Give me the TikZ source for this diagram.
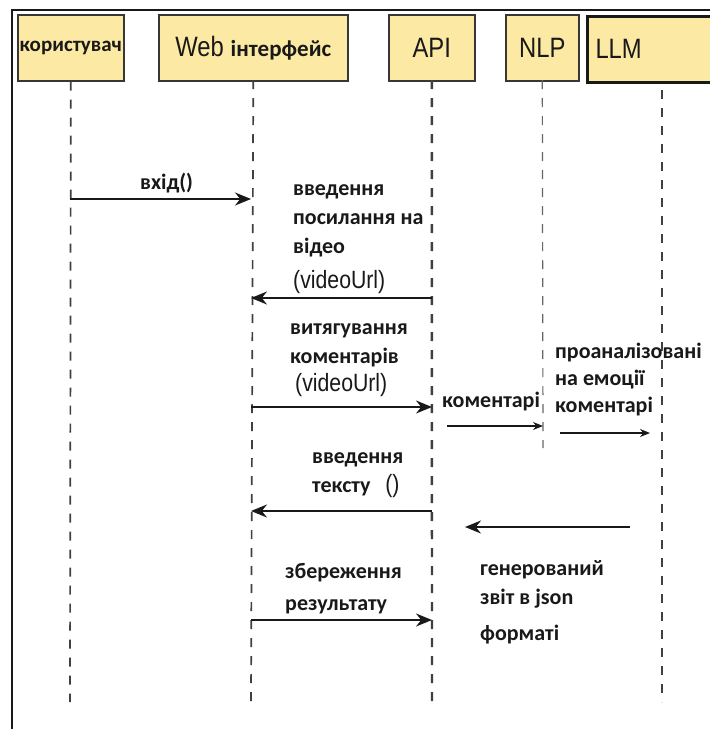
\documentclass[tikz,border=0pt]{standalone}
\usepackage{fontspec}
\setmainfont{Carlito}
\newfontfamily\narrowsans[FakeStretch=0.85]{Liberation Sans}
\usetikzlibrary{arrows.meta}
\definecolor{headfill}{RGB}{252,233,163}
\definecolor{headline}{RGB}{55,55,55}
\definecolor{ink}{RGB}{25,25,25}

\begin{document}
\begin{tikzpicture}[x=1pt,y=-1pt,
  head/.style={draw=headline,fill=headfill,line width=1.6pt,minimum height=66pt,
               inner sep=0pt,anchor=north west,text=ink},
  lifeline/.style={draw=black!75,line width=1.7pt,dash pattern=on 9pt off 9pt},
  msg/.style={draw=ink,line width=1.8pt,-{Stealth[length=16pt,width=13pt]}},
  smallmsg/.style={draw=ink,line width=1.5pt,-{Stealth[length=10pt,width=8pt]}},
  lbl/.style={font=\fontsize{22}{29}\selectfont\bfseries,align=left,
              anchor=base west,inner sep=0pt,text=ink},
  url/.style={font=\narrowsans\fontsize{25}{29}\selectfont,anchor=base west,
              inner sep=0pt,text=ink},
]
\clip (0,0) rectangle (710,729);
\useasboundingbox (0,0) rectangle (710,729);
\fill[white] (0,0) rectangle (710,729);

% outer frame (top and left edges)
\draw[line width=2.4pt,ink] (710,10) -- (12,10) -- (12,729);

% participant heads
\node[head,minimum width=106pt] (user) at (17,14)
  {\fontsize{21}{24}\selectfont\bfseries користувач};
\node[head,minimum width=189pt] (web) at (158,14)
  {{\narrowsans\fontsize{28}{30}\selectfont Web}\ \ \ {\fontsize{23}{26}\selectfont\bfseries інтерфейс}};
\node[head,minimum width=86pt] (api) at (388,14)
  {\narrowsans\fontsize{28}{30}\selectfont API};
\node[head,minimum width=73pt] (nlp) at (505,14)
  {\narrowsans\fontsize{28}{30}\selectfont NLP};
\node[head,minimum width=140pt,minimum height=66pt,line width=3pt,draw=ink,
      align=left,text width=124pt,inner xsep=8pt] (llm) at (586,14.5)
  {\narrowsans\fontsize{28}{30}\selectfont LLM};

% lifeline ends
\coordinate (userEnd) at (70,702);
\coordinate (webEnd)  at (251,702);
\coordinate (apiEnd)  at (432,702);
\coordinate (nlpEnd)  at (543,448);
\coordinate (llmTop)  at (662,90);
\coordinate (llmEnd)  at (662,702);

\draw[lifeline] (user.south) -- (userEnd);
\draw[lifeline] (web.south |- 0,80) -- (webEnd);
\draw[lifeline,line width=2.4pt] (api.south |- 0,80) -- (apiEnd);
\draw[lifeline,line width=1.2pt,draw=black!60] (nlp.south |- 0,80) -- (nlpEnd);
\draw[lifeline] (llmTop) -- (llmEnd);

% messages (multi-line labels are placed by the baseline of their last line)
\draw[msg] (userEnd |- 0,199) -- (webEnd |- 0,199);
\node[lbl] (l1) at (140,189) {вхід()};

\draw[msg] (apiEnd |- 0,298) -- (webEnd |- 0,298);
\node[lbl] (l2) at (293,253) {введення\\посилання на\\відео};
\node[url] (l2u) at (293,288) {(videoUrl)};

\draw[msg] (webEnd |- 0,407) -- (apiEnd |- 0,407);
\node[lbl] (l3) at (290,363) {витягування\\коментарів};
\node[url] (l3u) at (295,391) {(videoUrl)};

\coordinate (c4a) at (447,426);
\draw[smallmsg] (c4a) -- (nlpEnd |- 0,426);
\node[lbl] (l4) at (442,407) {коментарі};

\coordinate (c5a) at (560,433);
\coordinate (c5b) at (650,433);
\draw[smallmsg] (c5a) -- (c5b);
\node[lbl,font=\fontsize{22}{27}\selectfont\bfseries] (l5) at (555,412) {проаналізовані\\на емоції\\коментарі};

\draw[msg] (apiEnd |- 0,511) -- (webEnd |- 0,511);
\node[lbl] (l6) at (312,492) {введення\\тексту\ \ \ {\narrowsans\mdseries\fontsize{25}{29}\selectfont()}};

\coordinate (c7a) at (630,527);
\coordinate (c7b) at (465,527);
\draw[msg] (c7a) -- (c7b);
\node[lbl] (l7) at (480,640) {генерований\\звіт в json\\[7pt]форматі};

\draw[msg] (webEnd |- 0,620) -- (apiEnd |- 0,620);
\node[lbl,font=\fontsize{22}{32}\selectfont\bfseries] (l8) at (285,610) {збереження\\результату};
\end{tikzpicture}
\end{document}
